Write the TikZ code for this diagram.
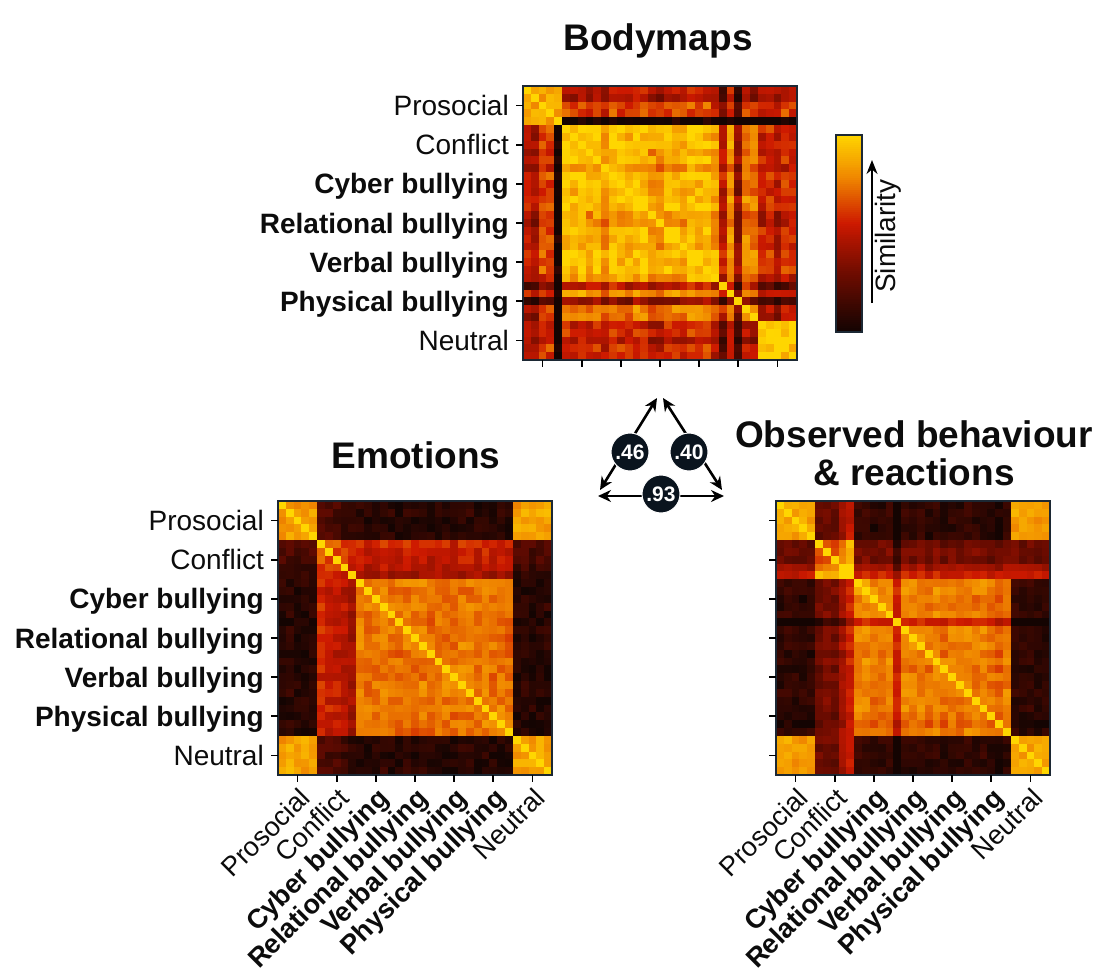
\documentclass[tikz,border=0pt]{standalone}
\usepackage{fontspec}
\setmainfont{Liberation Sans}
\usetikzlibrary{arrows.meta}

% heat colour scale: black -> dark red -> red -> orange -> gold
\definecolor{hA}{RGB}{20,4,2}
\definecolor{hB}{RGB}{112,12,0}
\definecolor{hC}{RGB}{205,25,0}
\definecolor{hD}{RGB}{240,135,0}
\definecolor{hE}{RGB}{255,214,0}
\definecolor{spine}{RGB}{28,40,52}
\definecolor{badgefill}{RGB}{10,20,30}
\definecolor{ink}{RGB}{12,12,12}

% sets colour "cellc" for a similarity value in [0,1]
\newcommand\heatcolor[1]{%
  \pgfmathsetmacro\hv{max(0,min(1,#1))}%
  \ifdim\hv pt<0.3pt
    \pgfmathtruncatemacro\hp{\hv/0.3*100}\colorlet{cellc}{hB!\hp!hA}%
  \else\ifdim\hv pt<0.55pt
    \pgfmathtruncatemacro\hp{(\hv-0.3)/0.25*100}\colorlet{cellc}{hC!\hp!hB}%
  \else\ifdim\hv pt<0.78pt
    \pgfmathtruncatemacro\hp{(\hv-0.55)/0.23*100}\colorlet{cellc}{hD!\hp!hC}%
  \else
    \pgfmathtruncatemacro\hp{(\hv-0.78)/0.22*100}\colorlet{cellc}{hE!\hp!hD}%
  \fi\fi\fi}

\def\cs{7.8286}   % cell size
\def\gs{39.143}   % category size (5 cells)

% category-level mean similarity (7x7, row major) and item offsets (35)
% categories: Prosocial, Conflict, Cyber, Relational, Verbal, Physical, Neutral
\def\blkBody{{0.86,0.56,0.56,0.56,0.56,0.54,0.50,
  0.56,0.93,0.92,0.92,0.92,0.80,0.56,
  0.56,0.92,0.93,0.92,0.92,0.80,0.54,
  0.56,0.92,0.92,0.93,0.92,0.80,0.54,
  0.56,0.92,0.92,0.92,0.93,0.82,0.54,
  0.54,0.80,0.80,0.80,0.82,0.82,0.48,
  0.50,0.56,0.54,0.54,0.54,0.48,0.95}}
\def\offBody{{-0.05,-0.12,0.10,0.08,-0.55,
  0.03,-0.02,0.03,-0.05,0.01,
  -0.10,0.03,0.00,-0.04,0.03,
  0.03,-0.10,-0.08,0.02,0.00,
  -0.04,0.03,0.00,0.03,-0.08,
  -0.28,0.03,-0.42,0.00,-0.06,
  0.00,0.04,-0.05,0.05,0.03}}

\def\blkEmo{{0.84,0.17,0.06,0.06,0.06,0.06,0.84,
  0.17,0.64,0.52,0.52,0.52,0.52,0.17,
  0.06,0.52,0.75,0.73,0.73,0.73,0.05,
  0.06,0.52,0.73,0.75,0.73,0.73,0.05,
  0.06,0.52,0.73,0.73,0.75,0.73,0.05,
  0.06,0.52,0.73,0.73,0.73,0.75,0.05,
  0.84,0.17,0.05,0.05,0.05,0.05,0.86}}
\def\offEmo{{0.00,0.02,-0.01,0.01,0.00,
  0.04,0.02,0.00,-0.04,-0.09,
  0.02,-0.01,0.01,0.03,0.00,
  -0.02,0.02,0.00,0.02,-0.02,
  0.01,0.00,-0.02,0.02,0.01,
  -0.01,0.02,0.00,0.01,-0.03,
  0.00,0.02,-0.01,0.00,0.01}}

\def\blkObs{{0.86,0.26,0.08,0.08,0.08,0.08,0.84,
  0.26,0.66,0.30,0.30,0.30,0.30,0.28,
  0.08,0.30,0.78,0.75,0.75,0.75,0.08,
  0.08,0.30,0.75,0.77,0.75,0.75,0.08,
  0.08,0.30,0.75,0.75,0.77,0.75,0.08,
  0.08,0.30,0.75,0.75,0.75,0.77,0.08,
  0.84,0.28,0.08,0.08,0.08,0.08,0.86}}
\def\offObs{{0.00,0.01,0.00,-0.01,0.01,
  -0.02,0.02,0.00,0.14,0.26,
  0.02,0.03,-0.02,0.00,0.02,
  -0.19,0.02,0.00,0.01,-0.02,
  0.02,-0.02,0.01,0.00,0.02,
  0.00,0.02,-0.03,-0.05,0.01,
  0.01,0.00,0.02,-0.01,0.00}}

% symmetric 35x35 similarity matrix: #1,#2 top-left corner, #3 means, #4 offsets, #5 noise, #6 seed
\newcommand\heatmatrix[6]{%
  \pgfmathsetseed{#6}%
  \foreach \i in {0,...,34}{%
    \foreach \j in {\i,...,34}{%
      \pgfmathtruncatemacro\blkidx{int(\i/5)*7+int(\j/5)}%
      \pgfmathsetmacro\offs{#4[\i]+#4[\j]}%
      \ifnum\blkidx=0 \def\offs{0}\fi
      \ifnum\blkidx=48 \def\offs{0}\fi
      \pgfmathsetmacro\cellv{#3[\blkidx]+\offs+#5*rand}%
      \ifnum\i=\j \def\cellv{1}\fi
      \heatcolor{\cellv}%
      \fill[cellc] (#1+\j*\cs,#2+\i*\cs) rectangle ++(\cs+0.4,\cs+0.4);
      \fill[cellc] (#1+\i*\cs,#2+\j*\cs) rectangle ++(\cs+0.4,\cs+0.4);
    }%
  }%
}

\def\catlist{Prosocial/\mdseries, Conflict/\mdseries, Cyber bullying/\bfseries,
  Relational bullying/\bfseries, Verbal bullying/\bfseries,
  Physical bullying/\bfseries, Neutral/\mdseries}

\tikzset{
  lbl/.style={inner sep=0pt, text=ink, font=\fontsize{28}{31}\selectfont},
  rotlbl/.style={inner sep=0pt, text=ink, font=\fontsize{27}{30}\selectfont},
  ttl/.style={inner sep=0pt, text=ink, font=\fontsize{37}{41}\selectfont\bfseries},
  tickmark/.style={line width=1.8pt, black},
  frame/.style={draw=spine, line width=1.6pt, minimum size=274pt, inner sep=0pt},
  badge/.style={circle, fill=badgefill, draw=white, line width=1pt, minimum size=38pt,
    inner sep=0pt, text=white, font=\fontsize{21}{23}\selectfont\bfseries},
  dblarrow/.style={line width=2.6pt, black,
    {Stealth[length=13pt,width=12pt]}-{Stealth[length=13pt,width=12pt]}}
}

\newcommand\axisticks[2]{%
  \foreach \t in {0,...,6}{%
    \draw[tickmark] (#1-7,#2+\t*\gs+\gs/2) -- (#1,#2+\t*\gs+\gs/2);
    \draw[tickmark] (#1+\t*\gs+\gs/2,#2+274) -- ++(0,7);
  }}
\newcommand\leftlabels[3]{%
  \foreach \lab/\wt [count=\t from 0] in \catlist {%
    \node[lbl, anchor=base east] (#3-row\t) at (#1-14,#2+\t*\gs+\gs/2+10) {\wt\lab};
  }}
\newcommand\bottomlabels[3]{%
  \foreach \lab/\wt [count=\t from 0] in \catlist {%
    \node[rotlbl, rotate=45, anchor=north east] (#3-col\t) at (#1+\t*\gs+\gs/2,#2+274+11) {\wt\lab};
  }}

\begin{document}
\begin{tikzpicture}[x=1pt, y=-1pt]
\useasboundingbox[fill=white] (0,0) rectangle (1098,979);

% Bodymaps
\heatmatrix{523}{86}{\blkBody}{\offBody}{0.10}{11}
\node[frame] (body) at (523+137,86+137) {};
\axisticks{523}{86}
\leftlabels{523}{86}{body}
\node[ttl, anchor=base] (body-title) at (658,51) {Bodymaps};

% colour bar
\foreach \s in {0,...,99}{%
  \heatcolor{(\s+0.5)/100}%
  \fill[cellc] (836,332-\s*1.97) rectangle ++(26,-2.4);
}
\node[draw=spine, line width=1.6pt, minimum width=26pt, minimum height=197pt, inner sep=0pt] (cbar) at (849,233.5) {};
\coordinate (sim-lo) at (872,303);
\coordinate (sim-hi) at (872,160);
\draw[line width=2pt, black, -{Stealth[length=14pt,width=11pt]}] (sim-lo) -- (sim-hi);
\node[lbl, rotate=90] (sim) at (888,236) {Similarity};

% Emotions
\heatmatrix{278}{501}{\blkEmo}{\offEmo}{0.07}{23}
\node[frame] (emo) at (278+137,501+137) {};
\axisticks{278}{501}
\leftlabels{278}{501}{emo}
\bottomlabels{278}{501}{emo}
\node[ttl, anchor=base] (emo-title) at (416,468) {Emotions};

% Observed behaviour & reactions
\heatmatrix{776}{501}{\blkObs}{\offObs}{0.06}{37}
\node[frame] (obs) at (776+137,501+137) {};
\axisticks{776}{501}
\bottomlabels{776}{501}{obs}
\node[ttl, anchor=base] (obs-title1) at (914,447) {Observed behaviour};
\node[ttl, anchor=base] (obs-title2) at (914,485) {\& reactions};

% correlations between the three representations
\coordinate (top-l) at (657,398);
\coordinate (top-r) at (663,398);
\coordinate (low-l) at (600,490);
\coordinate (low-r) at (722,490);
\coordinate (base-l) at (598,496);
\coordinate (base-r) at (724,496);
\draw[dblarrow] (low-l) -- (top-l);
\draw[dblarrow] (low-r) -- (top-r);
\draw[dblarrow] (base-l) -- (base-r);
\node[badge] (r-emo-body) at (630,452) {.46};
\node[badge] (r-obs-body) at (689,452) {.40};
\node[badge] (r-emo-obs) at (661,494) {.93};
\end{tikzpicture}
\end{document}
